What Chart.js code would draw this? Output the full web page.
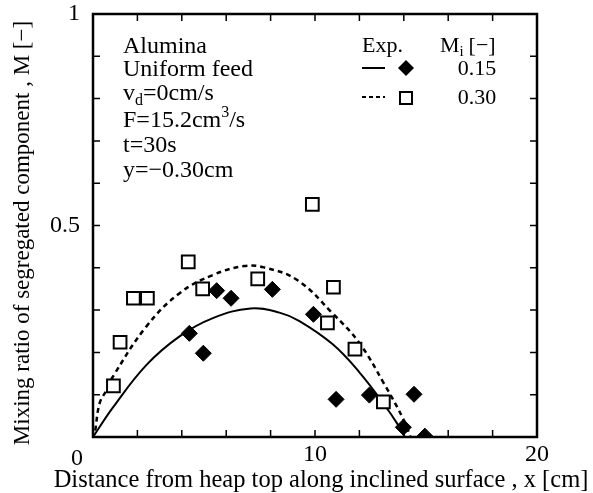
<!DOCTYPE html>
<html>
<head>
<meta charset="utf-8">
<script src="https://cdn.jsdelivr.net/npm/chart.js@4.4.0/dist/chart.umd.min.js"></script>
<style>
  html, body { margin: 0; padding: 0; background: #fff; }
</style>
</head>
<body>
<canvas id="chart" width="593" height="493"></canvas>
<script>
const serif = "'Liberation Serif', 'Times New Roman', serif";

// Exp. Mi = 0.15 (filled diamonds)
const x015 = [4.34, 4.97, 5.57, 6.22, 8.08, 9.93, 10.95, 12.45, 13.98, 14.46, 14.95];
const y015 = [0.245, 0.198, 0.346, 0.328, 0.349, 0.290, 0.089, 0.099, 0.023, 0.101, 0.002];

// Exp. Mi = 0.30 (open squares)
const x030 = [0.92, 1.22, 1.82, 2.45, 4.29, 4.94, 7.42, 9.88, 10.56, 10.83, 11.80, 13.08];
const y030 = [0.121, 0.224, 0.328, 0.328, 0.414, 0.350, 0.374, 0.550, 0.270, 0.354, 0.208, 0.083];

// calculated curves
const xCalc015 = [0, 0.9, 2.4, 3.9, 5.4, 7.1, 8.4, 9.3, 10.8, 12.0, 13.1, 13.8, 14.05];
const yCalc015 = [0, 0.070, 0.170, 0.238, 0.281, 0.304, 0.294, 0.274, 0.219, 0.153, 0.078, 0.024, 0];
const xCalc030 = [0.1, 0.3, 0.6, 0.9, 2.4, 3.9, 5.4, 6.8, 7.7, 9.2, 10.8, 12.0, 13.1, 14.0, 14.3];
const yCalc030 = [0.015, 0.080, 0.110, 0.143, 0.261, 0.340, 0.383, 0.404, 0.401, 0.371, 0.292, 0.222, 0.127, 0.040, 0];

const xLabels = [10, 20];      // the shared "0" sits left of the origin
const yLabels = [0.5, 1];

const xTitle = 'Distance from heap top along inclined surface , x [cm]';
const yTitle = 'Mixing ratio of segregated component , M [\u2212]';

const pts = (xs, ys) => xs.map((x, i) => ({ x: x, y: ys[i] }));

// box, inner ticks, axis titles, annotation text and key
const framePlugin = {
  id: 'frame',
  afterDraw(chart) {
    const ctx = chart.ctx;
    const a = chart.chartArea;
    const sx = chart.scales.x, sy = chart.scales.y;
    ctx.save();
    ctx.strokeStyle = '#000';
    ctx.lineWidth = 1.5;
    ctx.beginPath();
    for (let v = 2; v < 20; v += 2) {
      const px = sx.getPixelForValue(v);
      ctx.moveTo(px, a.bottom); ctx.lineTo(px, a.bottom - 7);
      ctx.moveTo(px, a.top); ctx.lineTo(px, a.top + 7);
    }
    for (let k = 1; k < 10; k++) {
      const py = sy.getPixelForValue(k / 10);
      ctx.moveTo(a.left, py); ctx.lineTo(a.left + 7, py);
      ctx.moveTo(a.right, py); ctx.lineTo(a.right - 7, py);
    }
    ctx.stroke();
    ctx.lineWidth = 2.5;
    ctx.strokeRect(a.left, a.top, a.right - a.left, a.bottom - a.top);

    ctx.fillStyle = '#000';
    ctx.textBaseline = 'alphabetic';

    // origin label and axis titles (wider than the plot, so drawn here)
    ctx.textAlign = 'center';
    ctx.font = '24px ' + serif;
    ctx.fillText('0', sx.getPixelForValue(0) - 16, a.bottom + 28);
    ctx.font = '24.5px ' + serif;
    ctx.fillText(xTitle, 321, 487);
    ctx.save();
    ctx.translate(29, 233);
    ctx.rotate(-Math.PI / 2);
    ctx.font = '23px ' + serif;
    ctx.fillText(yTitle, 0, 0);
    ctx.restore();

    // condition text
    ctx.textAlign = 'left';
    const big = '24px ' + serif, small = '16px ' + serif;
    ctx.font = big;
    const tx = a.left + 30;
    ctx.fillText('Alumina', tx, a.top + 39);
    ctx.fillText('Uniform feed', tx, a.top + 62);
    ctx.fillText('v', tx, a.top + 86);
    let w = ctx.measureText('v').width;
    ctx.font = small;
    ctx.fillText('d', tx + w, a.top + 91);
    w += ctx.measureText('d').width;
    ctx.font = big;
    ctx.fillText('=0cm/s', tx + w, a.top + 86);
    ctx.fillText('F=15.2cm', tx, a.top + 113);
    w = ctx.measureText('F=15.2cm').width;
    ctx.font = small;
    ctx.fillText('3', tx + w, a.top + 103);
    w += ctx.measureText('3').width;
    ctx.font = big;
    ctx.fillText('/s', tx + w, a.top + 113);
    ctx.fillText('t=30s', tx, a.top + 138);
    ctx.fillText('y=\u22120.30cm', tx, a.top + 163);

    // key
    ctx.font = '22px ' + serif;
    ctx.fillText('Exp.', a.left + 269, a.top + 38);
    const mx = a.left + 347;
    ctx.fillText('M', mx, a.top + 38);
    const mw = ctx.measureText('M').width;
    ctx.font = '15px ' + serif;
    ctx.fillText('i', mx + mw, a.top + 42);
    ctx.font = '22px ' + serif;
    ctx.fillText('[\u2212]', mx + mw + 9, a.top + 38);
    ctx.textAlign = 'center';
    ctx.fillText('0.15', a.left + 384, a.top + 61);
    ctx.fillText('0.30', a.left + 384, a.top + 90);

    ctx.lineWidth = 2;
    ctx.beginPath();
    ctx.moveTo(a.left + 269, a.top + 54); ctx.lineTo(a.left + 292, a.top + 54);
    ctx.stroke();
    ctx.setLineDash([4, 3]);
    ctx.beginPath();
    ctx.moveTo(a.left + 269, a.top + 83); ctx.lineTo(a.left + 292, a.top + 83);
    ctx.stroke();
    ctx.setLineDash([]);
    const dx = a.left + 313, dy = a.top + 54;
    ctx.beginPath();
    ctx.moveTo(dx - 8, dy); ctx.lineTo(dx, dy - 8); ctx.lineTo(dx + 8, dy); ctx.lineTo(dx, dy + 8);
    ctx.closePath();
    ctx.fill();
    ctx.strokeRect(a.left + 307, a.top + 78, 12, 12);
    ctx.restore();
  }
};

new Chart(document.getElementById('chart'), {
  type: 'scatter',
  data: {
    datasets: [
      {
        label: '0.15',
        data: pts(x015, y015),
        pointStyle: 'rectRot',
        pointRadius: 8,
        backgroundColor: '#000',
        borderColor: '#000',
        borderWidth: 1
      },
      {
        label: '0.30',
        data: pts(x030, y030),
        pointStyle: 'rect',
        pointRadius: 9,
        backgroundColor: '#fff',
        borderColor: '#000',
        borderWidth: 2
      },
      {
        type: 'line',
        label: 'calc 0.15',
        data: pts(xCalc015, yCalc015),
        showLine: true,
        pointRadius: 0,
        borderColor: '#000',
        borderWidth: 2,
        tension: 0.4,
        fill: false
      },
      {
        type: 'line',
        label: 'calc 0.30',
        data: pts(xCalc030, yCalc030),
        showLine: true,
        pointRadius: 0,
        borderColor: '#000',
        borderWidth: 2.5,
        borderDash: [5, 4],
        tension: 0.4,
        fill: false
      }
    ]
  },
  options: {
    responsive: false,
    animation: false,
    layout: { padding: { top: 14, right: 56, left: 0, bottom: 0 } },
    plugins: {
      legend: { display: false },
      tooltip: { enabled: false }
    },
    scales: {
      x: {
        type: 'linear',
        min: 0, max: 20,
        grid: { display: false, drawTicks: false, tickLength: 0 },
        border: { display: false },
        afterFit(scale) {
          scale.height = 56;
          scale.paddingLeft = 0;
          scale.paddingRight = 0;
        },
        ticks: {
          stepSize: 2,
          autoSkip: false,
          maxRotation: 0,
          padding: 3,
          color: '#000',
          font: { family: serif, size: 24 },
          callback: v => xLabels.includes(v) ? String(v) : ''
        }
      },
      y: {
        type: 'linear',
        min: 0, max: 1,
        grid: { display: false, drawTicks: false, tickLength: 0 },
        border: { display: false },
        afterFit(scale) {
          scale.width = 93;
          scale.paddingTop = 0;
          scale.paddingBottom = 0;
        },
        ticks: {
          stepSize: 0.1,
          autoSkip: false,
          padding: 13,
          color: '#000',
          font: { family: serif, size: 24 },
          callback: v => yLabels.some(l => Math.abs(l - v) < 1e-9) ? String(Math.round(v * 10) / 10) : ''
        }
      }
    }
  },
  plugins: [framePlugin]
});
</script>
</body>
</html>
